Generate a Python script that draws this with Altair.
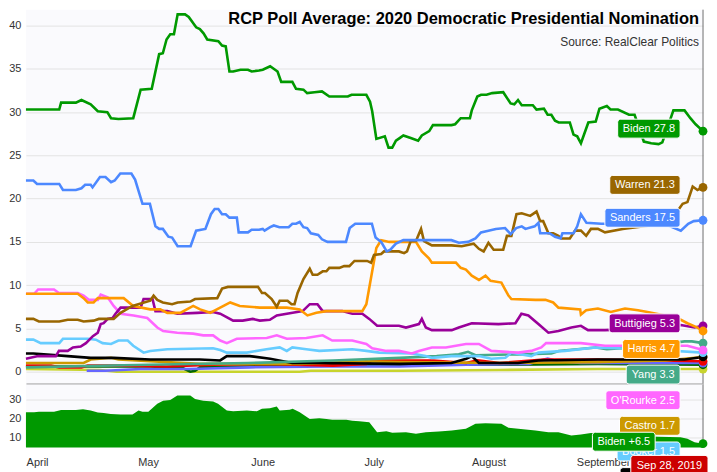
import altair as alt
import pandas as pd

# ---------------- data (days after 2019-04-01, values in %) ----------------
biden_days = [-3, 6, 6.5, 10.5, 12, 14.5, 16.4, 19, 20, 22, 26, 28, 31, 33, 34, 35, 36, 37, 38, 40, 41, 43, 44, 45, 46, 49, 50, 51, 52, 53, 55, 57, 58, 60, 61, 63, 65, 66, 69, 70, 72, 73, 75, 77, 79, 84, 85, 89, 90, 90.6, 91.7, 94, 95, 96, 97, 98, 99, 101, 103, 104, 106, 107, 112, 113, 114.5, 117, 117.5, 119, 120, 121.5, 123, 126, 128, 129, 130, 131, 134, 135, 137, 138, 139, 140, 141, 144, 145, 146, 147, 149, 151, 152, 154, 155, 157, 160, 161.5, 164, 166, 168, 169, 172, 175, 176.6, 178, 180]
biden_vals = [30.3, 30.3, 31.1, 31.1, 31.4, 30.9, 30.1, 30.0, 29.3, 29.2, 29.3, 32.6, 32.7, 36.7, 36.8, 38.4, 39.0, 39.0, 41.3, 41.3, 41.0, 39.8, 39.6, 39.1, 38.4, 38.2, 37.7, 37.6, 34.7, 34.7, 34.9, 34.9, 34.7, 34.8, 34.9, 35.3, 34.7, 33.5, 33.5, 32.7, 32.6, 32.2, 32.3, 32.4, 31.8, 31.8, 32.0, 32.0, 31.2, 30.1, 26.9, 27.2, 25.9, 25.9, 26.7, 27.0, 27.3, 27.0, 26.7, 27.3, 27.8, 28.5, 28.5, 28.6, 29.3, 29.3, 30.2, 31.8, 32.0, 32.0, 32.2, 32.3, 31.0, 30.9, 31.4, 30.8, 30.8, 30.3, 30.4, 29.7, 29.7, 29.0, 28.8, 28.8, 27.4, 27.2, 26.4, 28.8, 28.9, 30.4, 30.7, 30.3, 30.3, 29.7, 29.7, 26.6, 26.4, 26.3, 26.5, 30.2, 30.2, 29.3, 28.6, 27.8]

sanders_days = [-3, -1, 0, 6, 7, 10.5, 12, 13, 14.5, 15, 17, 18.5, 20, 21, 22.5, 25.5, 26.5, 28.5, 30.5, 32, 33, 34, 35.5, 36.5, 38, 41.5, 43, 45.5, 47, 48, 49, 50, 51, 52, 54, 54.5, 57, 58, 60, 61, 61.5, 63, 64, 65.5, 68, 69, 70, 71, 72, 73, 74, 76, 77, 78.5, 83.5, 84.5, 86, 90.5, 91.5, 93, 94.5, 95.5, 97, 99, 112, 114, 116.5, 118.5, 120, 122, 124, 126.5, 128, 129.5, 131, 132, 134.5, 135.5, 136, 138.5, 140, 141.5, 142, 145, 146, 147, 148.5, 152.5, 154, 162, 170, 174, 176, 177.5, 180]
sanders_vals = [22.1, 22.1, 21.7, 21.7, 21.0, 21.0, 21.2, 21.6, 21.6, 21.3, 22.5, 22.5, 21.9, 22.1, 22.9, 22.9, 22.2, 19.4, 19.4, 16.8, 16.5, 16.5, 15.6, 15.5, 14.5, 14.5, 16.3, 16.5, 18.2, 18.8, 18.8, 18.2, 18.2, 17.8, 17.8, 16.1, 16.1, 16.4, 16.4, 16.5, 16.3, 16.7, 16.9, 16.7, 16.7, 17.1, 17.1, 17.3, 16.7, 16.6, 16.0, 15.8, 15.3, 15.0, 15.0, 16.6, 17.1, 17.1, 15.5, 15.0, 13.9, 14.1, 14.8, 15.2, 15.2, 14.9, 15.0, 15.4, 16.1, 16.3, 16.5, 16.6, 15.9, 16.6, 16.8, 16.5, 16.8, 17.2, 16.0, 16.0, 15.6, 15.4, 16.0, 16.0, 16.8, 18.2, 17.2, 17.1, 17.1, 17.6, 17.0, 16.3, 17.1, 17.4, 17.5]

warren_days = [-3, -1, 0.5, 6, 8.3, 11, 12.6, 15.3, 16.7, 20.7, 22.6, 25.8, 30.6, 31.5, 32.5, 34, 36.5, 38, 41.4, 42.7, 48.7, 50, 51.6, 59.7, 60.8, 61.6, 63.4, 64.8, 65.6, 67.7, 68.8, 69.6, 70.4, 72, 73.7, 74.5, 75.8, 77.2, 78.2, 79, 81.7, 83, 84.4, 85.8, 89.2, 90.3, 91.1, 93, 93.8, 97.8, 99.2, 100, 101, 102.4, 103.8, 104.6, 106.7, 112, 114.8, 118, 119.4, 120.7, 122, 123.4, 126, 127, 128.2, 129.6, 131, 133.3, 135, 136, 136.8, 138.2, 139.5, 140.9, 141.7, 144, 145.4, 147, 148.4, 149.7, 151.6, 153.5, 158.3, 167.7, 173, 174.5, 175.8, 177.2, 178.5, 180]
warren_vals = [6.1, 6.1, 5.8, 5.8, 6.0, 6.0, 5.8, 5.9, 6.1, 6.1, 6.8, 7.6, 8.2, 8.8, 8.3, 8.0, 7.8, 8.0, 8.1, 8.4, 8.5, 9.6, 9.8, 9.8, 9.1, 9.1, 8.4, 7.5, 8.2, 8.2, 7.8, 7.8, 9.1, 10.7, 11.9, 11.2, 11.2, 11.6, 11.6, 12.0, 12.0, 12.2, 12.2, 12.8, 12.8, 12.6, 13.5, 13.6, 13.9, 13.9, 13.7, 13.9, 15.1, 15.1, 16.5, 15.1, 14.6, 14.6, 14.5, 14.8, 14.2, 13.9, 14.9, 14.1, 14.1, 15.7, 15.7, 18.2, 18.3, 18.0, 18.5, 17.4, 17.4, 16.0, 16.0, 15.7, 15.4, 15.4, 16.3, 16.3, 15.7, 16.5, 16.5, 16.1, 16.5, 17.0, 18.5, 19.4, 19.6, 21.4, 21.0, 21.3]

harris_days = [-3, 11, 12.6, 13.7, 15.3, 16.4, 23.4, 26, 30.6, 33.3, 35.2, 38.7, 42.2, 44.1, 46.8, 49.5, 52.2, 54.8, 60.2, 67.5, 71, 73.1, 75.5, 78.2, 87.9, 89, 90.6, 91.7, 93, 95.2, 102.4, 104, 105.9, 106.7, 113.2, 114.5, 115.9, 117.5, 119.4, 121.2, 122.6, 125.5, 127.4, 128.2, 134.7, 137.4, 139.5, 140.9, 146.8, 147, 148.4, 151.6, 155.1, 158.9, 162.4, 165, 173.1, 175.8, 178.5, 180]
harris_vals = [9.0, 9.0, 8.5, 8.0, 8.0, 8.5, 8.5, 7.6, 7.2, 7.2, 6.8, 6.8, 7.6, 7.2, 6.8, 7.4, 8.0, 7.6, 7.4, 7.4, 7.2, 6.5, 6.8, 7.0, 7.0, 7.8, 11.6, 14.3, 15.2, 15.0, 15.0, 13.9, 13.1, 12.6, 12.6, 12.0, 11.8, 11.1, 10.6, 11.1, 10.5, 10.3, 8.8, 8.4, 8.3, 8.3, 8.0, 7.4, 7.2, 6.6, 7.1, 7.3, 6.9, 7.3, 7.1, 6.9, 6.2, 5.6, 5.1, 4.7]

buttigieg_days = [-3, 0.3, 5.1, 5.9, 8.3, 9.7, 11.8, 13.2, 15.1, 16.4, 17.2, 18, 19.1, 20.4, 21.2, 22.6, 28, 28.8, 31.2, 32, 35.2, 37.9, 43.3, 47.6, 49.5, 53, 55.6, 58.3, 60.2, 62.9, 64.8, 69.1, 71.8, 73.7, 75.8, 77.2, 82.5, 85.2, 87.9, 89.8, 91.9, 97.8, 99.7, 103.2, 104, 105.1, 106.7, 112.1, 114, 117.5, 124.7, 129.3, 130.9, 132.8, 135.5, 138.2, 140.9, 144.4, 147, 148.9, 153.5, 165, 174, 177.7, 180]
buttigieg_vals = [1.5, 1.8, 1.8, 2.4, 2.4, 2.8, 2.9, 3.3, 4.1, 4.5, 5.5, 5.6, 6.1, 6.2, 6.7, 7.4, 7.4, 8.4, 8.4, 7.0, 7.0, 6.7, 6.8, 6.9, 6.7, 5.9, 5.9, 6.1, 5.9, 6.0, 6.5, 6.8, 7.0, 7.8, 7.8, 7.0, 7.0, 6.7, 6.7, 6.1, 5.3, 5.3, 5.1, 5.5, 6.1, 5.1, 4.8, 4.8, 5.1, 5.6, 5.5, 5.6, 6.7, 6.5, 5.5, 4.5, 4.7, 5.1, 5.3, 4.8, 4.8, 5.0, 5.4, 5.1, 5.3]

orourke_days = [-3, -0.8, 0.3, 4.6, 5.9, 11, 12.6, 14, 16.4, 17.2, 19.1, 20.7, 22.6, 26.1, 29.8, 32.5, 34.1, 37.9, 42.2, 44.9, 47.6, 49.5, 51.3, 54, 62.1, 64.8, 67.5, 72.8, 77.2, 79.8, 85.2, 89, 90.6, 94.4, 97.8, 101.3, 103.2, 106.7, 110.5, 115.9, 119.4, 122.8, 130.1, 133.6, 136.3, 137.6, 147, 153.5, 175.8, 180]
orourke_vals = [9.0, 9.0, 9.5, 9.5, 9.1, 9.1, 8.8, 8.3, 8.3, 8.9, 8.6, 7.6, 6.7, 6.5, 6.2, 5.1, 4.7, 4.5, 4.4, 4.2, 4.2, 3.6, 3.3, 3.8, 3.9, 4.2, 3.8, 3.9, 4.2, 3.6, 3.6, 3.2, 2.7, 2.4, 2.4, 2.1, 2.4, 2.8, 2.8, 3.2, 3.2, 2.4, 2.2, 2.4, 2.8, 3.3, 3.3, 3.0, 3.0, 2.5]

yang_days = [-3, 30, 57, 80, 98, 108, 114, 116.5, 118.5, 130, 139, 141, 151, 154, 165, 175, 177, 180]
yang_vals = [0.5, 0.8, 1.0, 1.3, 1.6, 1.8, 2.0, 2.3, 1.9, 2.0, 2.1, 2.4, 2.8, 2.6, 2.9, 3.5, 3.5, 3.3]

booker_days = [-3, -1, 1, 6, 7, 13.7, 15.9, 17.7, 20, 22, 24.5, 26, 28.8, 30.6, 35.2, 47.6, 49.5, 51.3, 56.7, 62, 65.6, 67.5, 69, 72.8, 76.3, 85.2, 89, 92.5, 101.3, 105, 106.7, 112, 119.4, 122.8, 126.6, 128.2, 133.6, 135.5, 142.7, 150.8, 165, 180]
booker_vals = [3.7, 3.7, 3.3, 3.3, 3.8, 3.8, 3.7, 3.3, 3.2, 3.6, 3.6, 3.0, 2.2, 2.4, 2.6, 2.7, 2.5, 2.2, 2.2, 2.6, 2.8, 2.4, 2.8, 2.6, 2.4, 2.6, 2.4, 2.2, 2.1, 1.8, 1.6, 1.8, 1.8, 1.5, 1.6, 2.2, 1.8, 2.2, 2.4, 2.8, 2.6, 2.2]

black_days = [-3, -1, 8.3, 14.5, 20.7, 30.6, 44, 49.5, 51.3, 57.5, 63, 69, 76, 98, 112, 116, 117.5, 119.4, 130, 135.5, 151.6, 175, 180]
black_vals = [2.1, 2.1, 1.8, 1.6, 1.6, 1.4, 1.4, 1.3, 1.8, 1.8, 1.5, 1.0, 1.0, 0.9, 1.0, 1.5, 1.8, 1.0, 1.0, 1.3, 1.4, 1.4, 1.7]

red_days = [-3, 3.8, 6, 12, 13.7, 22.6, 35, 47.6, 62, 80, 89, 90.6, 107, 116, 119, 125, 137, 151.6, 180]
red_vals = [0.7, 0.7, 0.5, 0.5, 0.7, 0.7, 0.6, 0.8, 0.9, 0.7, 0.9, 1.3, 1.3, 1.0, 1.3, 1.0, 1.4, 1.4, 1.2]

castro_days = [-3, 12.6, 14.5, 20, 22, 44, 71, 89, 98, 125, 151.6, 170, 180]
castro_vals = [1.0, 1.0, 1.4, 1.6, 1.4, 0.9, 0.9, 1.2, 1.1, 1.0, 1.1, 1.3, 1.7]

blue_days = [13.4, 18.5, 28, 41, 57.5, 79, 98, 116, 133, 136, 138, 141, 147, 180]
blue_vals = [0.1, 0.1, 0.3, 0.3, 0.5, 0.6, 0.6, 0.8, 0.9, 1.3, 1.5, 1.2, 1.0, 1.0]

dkgreen_days = [-3, 30.6, 39.5, 41.4, 42.7, 44, 71, 98, 125, 151.6, 180]
dkgreen_vals = [0.6, 0.6, 0.4, 0.0, 0.1, 0.5, 0.7, 0.8, 0.8, 0.9, 0.8]

ygreen_days = [-3, 17, 21.5, 71, 74, 98, 125, 151.6, 180]
ygreen_vals = [0.3, 0.2, 0.0, 0.0, 0.1, 0.1, 0.2, 0.3, 0.3]

# Biden lead (lower panel)
lead_days = [-3, -0.8, 0.5, 4.6, 6.5, 10.5, 12.4, 14.5, 16.4, 18, 19.9, 22.6, 25.8, 27.4, 28.5, 30.1, 32.5, 34.1, 36, 37.9, 41.4, 42.7, 44.9, 47.6, 48.9, 51.3, 53, 56.7, 59.4, 60.8, 62.9, 64.8, 65.6, 68.3, 69.1, 71, 73.7, 76.3, 78.2, 79.8, 83.6, 85.2, 87.1, 89.8, 91.9, 94.4, 96, 99.7, 102.4, 105.1, 108.6, 112.1, 115.9, 118.5, 121.2, 125.5, 127.4, 130.1, 134.7, 138.2, 140.9, 144.4, 147, 149.7, 157, 167.7, 173.9, 175.8, 177.7, 180]
lead_vals = [23.4, 23.4, 23.7, 23.7, 24.6, 24.6, 25.0, 24.3, 23.2, 23.0, 22.5, 22.1, 22.1, 24.3, 23.6, 23.6, 27.9, 29.6, 30.0, 32.3, 32.3, 30.5, 29.6, 29.1, 27.9, 24.3, 23.9, 24.3, 23.9, 25.2, 25.5, 26.4, 24.3, 24.7, 25.2, 23.4, 19.8, 20.2, 19.8, 19.3, 19.3, 18.8, 18.6, 18.0, 12.7, 13.2, 12.4, 12.7, 11.8, 12.7, 13.1, 13.6, 14.5, 17.2, 17.5, 17.2, 15.0, 14.5, 13.6, 12.7, 12.7, 10.9, 11.4, 12.2, 11.5, 10.2, 10.0, 9.1, 7.3, 6.5]

# draw order (bottom -> top), colours
SERIES = [
    ("Delaney", ygreen_days, ygreen_vals, "#c8d42e"),
    ("Gabbard", dkgreen_days, dkgreen_vals, "#006600"),
    ("Bennet", blue_days, blue_vals, "#6666ff"),
    ("Klobuchar", red_days, red_vals, "#ee0000"),
    ("Castro", castro_days, castro_vals, "#cc9900"),
    ("Steyer", black_days, black_vals, "#000000"),
    ("Yang", yang_days, yang_vals, "#44aa88"),
    ("Booker", booker_days, booker_vals, "#66ccff"),
    ("O'Rourke", orourke_days, orourke_vals, "#ff66ff"),
    ("Buttigieg", buttigieg_days, buttigieg_vals, "#990099"),
    ("Harris", harris_days, harris_vals, "#ff9900"),
    ("Warren", warren_days, warren_vals, "#996600"),
    ("Sanders", sanders_days, sanders_vals, "#4c88ff"),
    ("Biden", biden_days, biden_vals, "#009900"),
]

# hover labels shown on the right (name, value text, colour)
LABELS = [
    ("Biden", "27.8", "#009900"),
    ("Warren", "21.3", "#996600"),
    ("Sanders", "17.5", "#4c88ff"),
    ("Buttigieg", "5.3", "#990099"),
    ("Harris", "4.7", "#ff9900"),
    ("Yang", "3.3", "#44aa88"),
    ("O'Rourke", "2.5", "#ff66ff"),
    ("Castro", "1.7", "#cc9900"),
    ("Booker", "1.5", "#66ccff"),
    ("Steyer", "1.3", "#000000"),
]
LEAD_LABEL = ("Biden", "+6.5", "#009900")
DATE_LABEL = "Sep 28, 2019"
TITLE = "RCP Poll Average: 2020 Democratic Presidential Nomination"
SOURCE = "Source: RealClear Politics"

# ---------------- layout ----------------
BASE = pd.Timestamp("2019-04-01")
END = "2019-09-28T00:00"
W, TOP_H, LOW_H, GAP = 679, 375, 63, 1
TOP_DOM = [-1.38, 41.84]
LOW_DOM = [4.5, 38.2]
FONT = "Liberation Sans"
BG = "#fafafd"


def to_date(d):
    return (BASE + pd.Timedelta(hours=round(d * 24))).strftime("%Y-%m-%dT%H:%M")


def frame(days, vals, name):
    return pd.DataFrame({"date": [to_date(d) for d in days], "value": vals, "series": name})


AW = {" ": 278, "'": 191, "+": 584, ",": 278, ".": 278, "A": 667, "B": 667, "C": 722,
      "O": 778, "R": 722, "S": 667, "W": 944, "Y": 667, "H": 722, "K": 667, "a": 556,
      "c": 500, "d": 556, "e": 556, "g": 556, "i": 222, "k": 500, "l": 222, "n": 556,
      "o": 556, "p": 556, "r": 333, "s": 500, "t": 278, "u": 556, "y": 500}


def text_w(s, size=11):
    return sum(AW.get(c, 556) for c in s) * size / 1000.0


def top_px(v):  # y pixel of a value inside the top panel
    return TOP_H * (TOP_DOM[1] - v) / (TOP_DOM[1] - TOP_DOM[0])


def low_from_px(px):  # lower-panel value for a pixel measured from the top panel's top
    return LOW_DOM[1] - (px - TOP_H - GAP) * (LOW_DOM[1] - LOW_DOM[0]) / LOW_H


xscale = alt.Scale(domain=[alt.DateTime(year=2019, month=3, date=29),
                           alt.DateTime(year=2019, month=9, date=28)], nice=False)
X_TOP = alt.X("date:T", scale=xscale,
              axis=alt.Axis(labels=False, ticks=False, grid=False, domain=True,
                            domainColor="#777777", title=None))
X_LOW = alt.X("date:T", scale=xscale,
              axis=alt.Axis(values=[alt.DateTime(year=2019, month=m, date=1) for m in range(4, 10)],
                            format="%B", labelFontSize=11, labelColor="#333333", labelFont=FONT,
                            ticks=False, domain=False, grid=False, labelPadding=9,
                            labelFlush=False, labelOverlap=False, title=None))
ycommon = dict(title=None, ticks=False, domain=False, gridColor="#e3e3e3", labelFontSize=11,
               labelColor="#333333", labelFont=FONT, labelPadding=5, minExtent=17, maxExtent=17)
Y_TOP = alt.Y("value:Q", scale=alt.Scale(domain=TOP_DOM, nice=False, zero=False),
              axis=alt.Axis(values=list(range(0, 45, 5)), **ycommon))
Y_LOW = alt.Y("value:Q", scale=alt.Scale(domain=LOW_DOM, nice=False, zero=False),
              axis=alt.Axis(values=[10, 20, 30], **ycommon))

# ---------------- top panel ----------------
top_layers = []
for name, days, vals, col in SERIES:
    top_layers.append(alt.Chart(frame(days, vals, name)).mark_line(
        color=col, strokeWidth=2.6).encode(x=X_TOP, y=Y_TOP))

ends = pd.DataFrame({"date": [END] * len(SERIES),
                     "value": [s[2][-1] for s in SERIES],
                     "series": [s[0] for s in SERIES]})
rule_df = pd.DataFrame({"date": [END]})
top_layers.append(alt.Chart(rule_df).mark_rule(color="#6e6e6e", strokeWidth=1).encode(x=X_TOP))
top_layers.append(alt.Chart(ends).mark_circle(size=78, opacity=1).encode(
    x=X_TOP, y=Y_TOP,
    color=alt.Color("series:N", scale=alt.Scale(domain=[s[0] for s in SERIES],
                                                range=[s[3] for s in SERIES]), legend=None)))
top_layers.append(alt.Chart(pd.DataFrame({"t": [TITLE]})).mark_text(
    align="right", baseline="alphabetic", font=FONT, fontSize=16.5, fontWeight="bold",
    color="#000000").encode(x=alt.value(675), y=alt.value(14.7), text="t:N"))
top_layers.append(alt.Chart(pd.DataFrame({"t": [SOURCE]})).mark_text(
    align="right", baseline="alphabetic", font=FONT, fontSize=12,
    color="#333333").encode(x=alt.value(675), y=alt.value(36), text="t:N"))

top = alt.layer(*top_layers).properties(width=W, height=TOP_H)

# ---------------- lower panel ----------------
low_layers = []
low_layers.append(alt.Chart(frame(lead_days, lead_vals, "lead")).mark_area(
    color="#009900", opacity=1).encode(x=X_LOW, y=Y_LOW, y2=alt.datum(LOW_DOM[0])))
low_layers.append(alt.Chart(rule_df).mark_rule(color="#6e6e6e", strokeWidth=1).encode(x=X_LOW))
low_layers.append(alt.Chart(pd.DataFrame({"date": [END], "value": [lead_vals[-1]]})).mark_circle(
    size=78, opacity=1, color="#009900").encode(x=X_LOW, y=Y_LOW))


def box(text, color, value, right_off, y_off=(-9.5, 9.5), pad=10):
    w = text_w(text) + pad
    df = pd.DataFrame({"date": [END], "value": [value], "text": [text]})
    b = alt.Chart(df)
    r = b.mark_rect(color=color, cornerRadius=3, stroke="#ffffff", strokeWidth=1,
                    xOffset=-(right_off + w), x2Offset=-right_off,
                    yOffset=y_off[0], y2Offset=y_off[1]).encode(
        x=X_LOW, x2=alt.X2("date"), y=Y_LOW, y2=alt.Y2("value"))
    t = b.mark_text(color="#ffffff", font=FONT, fontSize=11, align="center", baseline="middle",
                    xOffset=-(right_off + w / 2), yOffset=(y_off[0] + y_off[1]) / 2 + 0.5).encode(
        x=X_LOW, y=Y_LOW, text="text:N")
    return [r, t]


# dodge the hover labels so they never overlap
targets = [top_px(float(v)) - 2.5 for _, v, _ in LABELS]
placed = []
for tgt in targets:
    placed.append(tgt if not placed else max(tgt, placed[-1] + 25.7))
for (name, v, col), px in zip(LABELS, placed):
    low_layers += box(f"{name} {v}", col, low_from_px(px), 23)

lead_px = TOP_H + GAP + LOW_H * (LOW_DOM[1] - lead_vals[-1]) / (LOW_DOM[1] - LOW_DOM[0]) - 2
low_layers += box(f"{LEAD_LABEL[0]} {LEAD_LABEL[1]}", LEAD_LABEL[2], low_from_px(lead_px), 48)

# crosshair date label under the axis
low_layers += box(DATE_LABEL, "#cc0000", LOW_DOM[0], -5, y_off=(8, 28), pad=12)

bottom = alt.layer(*low_layers).properties(width=W, height=LOW_H)

chart = alt.vconcat(top, bottom, spacing=GAP, bounds="flush").properties(
    padding={"left": 0, "top": 0, "right": 0, "bottom": 0}, background="#ffffff"
).configure_view(strokeWidth=0, fill=BG)

chart.save("out.html", embed_options={"renderer": "svg", "actions": False})
